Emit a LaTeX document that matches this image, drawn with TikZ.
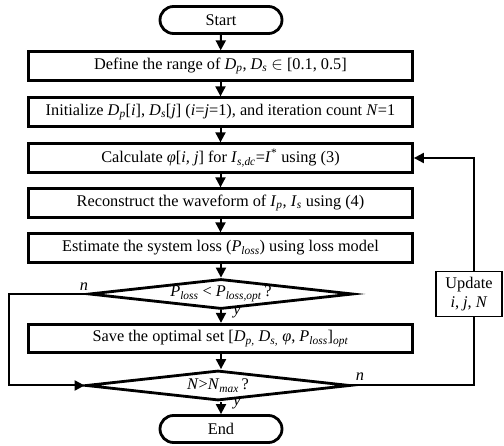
\documentclass[tikz,border=0pt]{standalone}
\usepackage{fontspec}
\setmainfont{Liberation Serif}
\usetikzlibrary{arrows.meta,shapes.geometric}
\newcommand{\lsub}[1]{\textsubscript{\textit{#1}}}
\begin{document}
\begin{tikzpicture}[x=1pt,y=-1pt,
  txt/.style={font=\fontsize{16.3}{18.5}\selectfont},
  box/.style={txt,draw,line width=2.8pt,minimum width=384pt,minimum height=28.5pt,inner sep=0pt},
  term/.style={txt,draw,line width=2.8pt,rounded corners=13.5pt,minimum width=122pt,minimum height=27pt,inner sep=0pt},
  dec/.style={txt,draw,diamond,line width=2.8pt,minimum width=264pt,minimum height=30pt,inner sep=0pt,aspect=8},
  upd/.style={txt,draw,line width=1.8pt,minimum width=66pt,minimum height=45pt,inner sep=0pt,align=center},
  arr/.style={line width=2pt,-{Triangle[length=10pt,width=10pt]}},
  con/.style={line width=2pt},
  lbl/.style={txt,font=\fontsize{16.3}{18.5}\selectfont\itshape,inner sep=0pt}]
\useasboundingbox (0,0) rectangle (504,446);
\node[term] (start) at (221,20) {Start};
\node[box] (b1) at (220.5,66) {Define the range of \textit{D}\lsub{p}, \textit{D}\lsub{s} $\in$ [0.1, 0.5]};
\node[box] (b2) at (220.5,112) {Initialize \textit{D}\lsub{p}[\textit{i}], \textit{D}\lsub{s}[\textit{j}] (\textit{i}=\textit{j}=1), and iteration count \textit{N}=1};
\node[box] (b3) at (220.5,158) {Calculate \textit{φ}[\textit{i, j}] for \textit{I}\lsub{s,dc}=\textit{I}\textsuperscript{*} using (3)};
\node[box] (b4) at (220.5,203) {Reconstruct the waveform of \textit{I}\lsub{p}, \textit{I}\lsub{s} using (4)};
\node[box] (b5) at (220.5,248) {Estimate the system loss (\textit{P}\lsub{loss}) using loss model};
\node[dec] (d1) at (221,294) {\textit{P}\lsub{loss} < \textit{P}\lsub{loss,opt}\,?};
\node[box] (b6) at (220.5,338.5) {Save the optimal set [\textit{D}\lsub{p,} \textit{D}\lsub{s,} \textit{φ}, \textit{P}\lsub{loss}]\lsub{opt}};
\node[dec] (d2) at (218,385.5) {\textit{N}>\textit{N}\lsub{max}\,?};
\node[term] (end) at (221,429) {End};
\node[upd] (u) at (469,294) {Update\\\textit{i}, \textit{j}, \textit{N}};
\coordinate (l1) at (9,294);
\coordinate (l2) at (9,385.5);
\coordinate (r1) at (474,385.5);
\coordinate (r2) at (474,158);
\draw[arr] (start) -- (b1);
\draw[arr] (b1) -- (b2);
\draw[arr] (b2) -- (b3);
\draw[arr] (b3) -- (b4);
\draw[arr] (b4) -- (b5);
\draw[arr] (b5.south -| d1.north) -- (d1.north);
\draw[arr] (d1.south) -- (d1.south |- b6.north);
\draw[arr] (b6.south -| d1.south) -- (d1.south |- d2.north);
\draw[arr] (d1.south |- d2.south) -- (d1.south |- end.north);
\draw[arr] (d1.west) -- (l1) -- (l2) -- (d2.west);
\draw[con] (d2.east) -- (r1) -- (u.south -| r1);
\draw[arr] (u.north -| r2) -- (r2) -- (b3.east);
\node[lbl] (n1) at (84,287) {n};
\node[lbl] (n2) at (360,377) {n};
\node[lbl] (y1) at (237,313) {y};
\node[lbl] (y2) at (237,404) {y};
\end{tikzpicture}
\end{document}
